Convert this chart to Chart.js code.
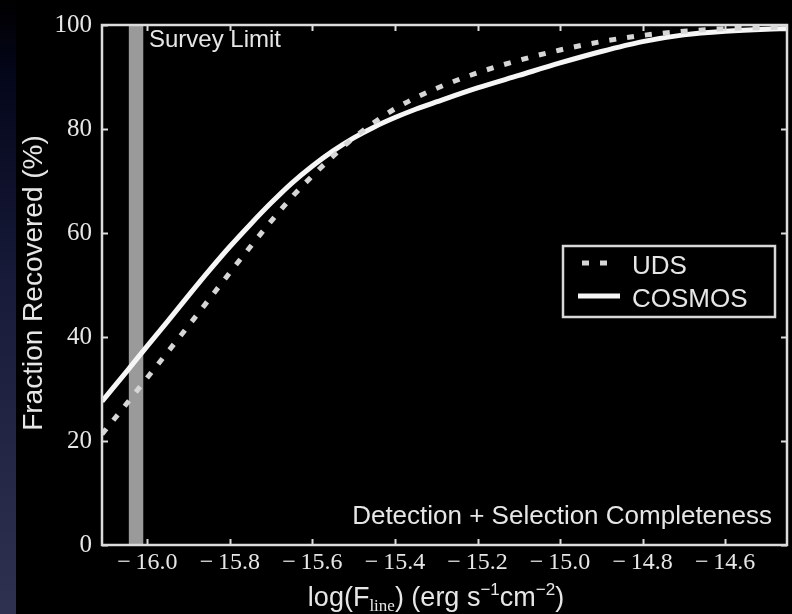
<!DOCTYPE html>
<html>
<head>
<meta charset="utf-8">
<script src="https://cdn.jsdelivr.net/npm/chart.js@4.4.1/dist/chart.umd.min.js"></script>
<style>
  html, body { margin: 0; padding: 0; background: #000; overflow: hidden; }
  canvas { display: block; }
</style>
</head>
<body>
<canvas id="c" width="792" height="614"></canvas>
<script>
// Line-flux grid (log erg s^-1 cm^-2) and recovered fractions (%)
const logFlux = [-16.11, -16.05, -16.0, -15.95, -15.9, -15.85, -15.8, -15.75, -15.7, -15.65,
                 -15.6, -15.55, -15.5, -15.45, -15.4, -15.35, -15.3, -15.2, -15.1, -15.0,
                 -14.9, -14.8, -14.7, -14.6, -14.5, -14.45];
const udsRecovered = [21.3, 27.2, 32.2, 37.2, 42.2, 47.3, 52.4, 57.4, 62.3, 66.9,
                      71.0, 74.8, 78.3, 81.3, 83.9, 86.0, 87.8, 90.8, 93.2, 95.2,
                      96.8, 98.0, 98.8, 99.3, 99.5, 99.6];
const cosmosRecovered = [27.6, 33.4, 38.3, 43.1, 48.0, 52.8, 57.4, 61.7, 65.8, 69.6,
                         72.9, 75.8, 78.3, 80.4, 82.2, 83.8, 85.2, 87.9, 90.3, 92.7,
                         94.9, 96.8, 98.1, 98.8, 99.2, 99.3];
const seriesLabels = ['UDS', 'COSMOS'];
const surveyLimit = [-16.045, -16.01];
const xTickValues = [-16.0, -15.8, -15.6, -15.4, -15.2, -15.0, -14.8, -14.6];
const yTickValues = [0, 20, 40, 60, 80, 100];
const surveyLabel = 'Survey Limit';
const panelTitle = 'Detection + Selection Completeness';
const yTitle = 'Fraction Recovered (%)';

const INK = '#e6e6e6';
const SANS = '"Liberation Sans", Arial, sans-serif';
const SERIF = '"Liberation Serif", "Times New Roman", serif';

const toPoints = (ys) => logFlux.map((x, i) => ({ x, y: ys[i] }));

// page background with the faint blue strip at the left edge
const backdrop = {
  id: 'backdrop',
  beforeDraw(chart) {
    const c = chart.ctx;
    c.save();
    c.fillStyle = '#000';
    c.fillRect(0, 0, chart.width, chart.height);
    const g = c.createLinearGradient(0, 0, 0, chart.height);
    g.addColorStop(0, '#000000');
    g.addColorStop(0.12, '#04061a');
    g.addColorStop(0.45, '#171a38');
    g.addColorStop(1, '#2e3150');
    c.fillStyle = g;
    c.fillRect(0, 0, 16, chart.height);
    c.restore();
  }
};

// grey band marking the survey flux limit
const surveyBand = {
  id: 'surveyBand',
  beforeDatasetsDraw(chart) {
    const { ctx: c, chartArea: a, scales: { x } } = chart;
    const x0 = x.getPixelForValue(surveyLimit[0]);
    const x1 = x.getPixelForValue(surveyLimit[1]);
    c.save();
    c.fillStyle = '#9a9a9a';
    c.fillRect(x0, a.top, x1 - x0, a.bottom - a.top);
    c.restore();
  }
};

// boxed axes with inward ticks on all four sides
const boxFrame = {
  id: 'boxFrame',
  afterDatasetsDraw(chart) {
    const { ctx: c, chartArea: a, scales: { x, y } } = chart;
    const L = 6;
    c.save();
    c.strokeStyle = '#dcdcdc';
    c.lineWidth = 2;
    c.beginPath();
    x.ticks.forEach(t => {
      const px = Math.round(x.getPixelForValue(t.value)) + 0.5;
      c.moveTo(px, a.bottom); c.lineTo(px, a.bottom - L);
      c.moveTo(px, a.top); c.lineTo(px, a.top + L);
    });
    y.ticks.forEach(t => {
      const py = Math.round(y.getPixelForValue(t.value)) + 0.5;
      c.moveTo(a.left, py); c.lineTo(a.left + L, py);
      c.moveTo(a.right, py); c.lineTo(a.right - L, py);
    });
    c.stroke();
    c.lineWidth = 2.5;
    c.strokeRect(a.left, a.top, a.right - a.left, a.bottom - a.top);
    c.restore();
  }
};

// annotations, axis titles and the boxed legend
const labels = {
  id: 'labels',
  afterDraw(chart) {
    const { ctx: c, chartArea: a } = chart;
    c.save();
    c.fillStyle = INK;
    c.textBaseline = 'alphabetic';

    c.font = '24px ' + SANS;
    c.textAlign = 'left';
    c.fillText(surveyLabel, 149, 47);

    c.font = '26px ' + SANS;
    c.textAlign = 'right';
    c.fillText(panelTitle, a.right - 15, 524);

    // y title
    c.save();
    c.translate(42, 283);
    c.rotate(-Math.PI / 2);
    c.textAlign = 'center';
    c.font = '28px ' + SANS;
    c.fillText(yTitle, 0, 0);
    c.restore();

    // x title with subscript / superscripts
    const parts = [
      { t: 'log(F', f: '27px ' + SANS, dy: 0 },
      { t: 'line', f: '17px ' + SERIF, dy: 5 },
      { t: ') (erg s', f: '27px ' + SANS, dy: 0 },
      { t: '\u22121', f: '17px ' + SANS, dy: -11 },
      { t: 'cm', f: '27px ' + SANS, dy: 0 },
      { t: '\u22122', f: '17px ' + SANS, dy: -11 },
      { t: ')', f: '27px ' + SANS, dy: 0 }
    ];
    c.textAlign = 'left';
    let total = 0;
    parts.forEach(p => { c.font = p.f; p.w = c.measureText(p.t).width; total += p.w; });
    let cx = 436 - total / 2;
    parts.forEach(p => { c.font = p.f; c.fillText(p.t, cx, 606 + p.dy); cx += p.w; });

    // legend
    const bx = 563, by = 246, bw = 212, bh = 71;
    c.fillStyle = '#000';
    c.fillRect(bx, by, bw, bh);
    c.strokeStyle = '#d8d8d8';
    c.lineWidth = 2.5;
    c.strokeRect(bx, by, bw, bh);
    const rows = [263, 296];
    chart.data.datasets.forEach((ds, i) => {
      const ry = rows[i];
      c.save();
      c.strokeStyle = ds.borderColor;
      c.lineWidth = ds.borderWidth;
      c.setLineDash(ds.borderDash || []);
      c.beginPath();
      c.moveTo(ds.borderDash ? 582 : 578, ry);
      c.lineTo(ds.borderDash ? 612 : 620, ry);
      c.stroke();
      c.restore();
      c.fillStyle = INK;
      c.font = '26px ' + SANS;
      c.fillText(ds.label, 632, ry + 11);
    });
    c.restore();
  }
};

new Chart(document.getElementById('c'), {
  type: 'line',
  data: {
    datasets: [
      {
        label: seriesLabels[0],
        data: toPoints(udsRecovered),
        borderColor: '#d6d6d6',
        borderWidth: 5,
        borderDash: [7, 11],
        borderCapStyle: 'butt',
        pointRadius: 0,
        cubicInterpolationMode: 'monotone',
        fill: false
      },
      {
        label: seriesLabels[1],
        data: toPoints(cosmosRecovered),
        borderColor: '#f6f6f6',
        borderWidth: 5,
        pointRadius: 0,
        cubicInterpolationMode: 'monotone',
        fill: false
      }
    ]
  },
  options: {
    responsive: false,
    animation: false,
    devicePixelRatio: 1,
    layout: { padding: { left: 0, right: 5, top: 16, bottom: 0 } },
    scales: {
      x: {
        type: 'linear',
        min: -16.11,
        max: -14.45,
        afterBuildTicks: (s) => { s.ticks = xTickValues.map(v => ({ value: v })); },
        afterFit: (s) => { s.height = 69; },
        grid: { display: false, drawTicks: false },
        border: { display: false },
        ticks: {
          color: INK,
          padding: 3,
          maxRotation: 0,
          autoSkip: false,
          font: { family: SERIF, size: 24 },
          callback: (v) => '\u2212\u2009' + Math.abs(v).toFixed(1)
        }
      },
      y: {
        min: 0,
        max: 100,
        afterBuildTicks: (s) => { s.ticks = yTickValues.map(v => ({ value: v })); },
        afterFit: (s) => { s.width = 102; },
        grid: { display: false, drawTicks: false },
        border: { display: false },
        ticks: {
          color: INK,
          padding: 10,
          font: { family: SERIF, size: 25 },
          callback: (v) => String(v)
        }
      }
    },
    plugins: {
      legend: { display: false },
      tooltip: { enabled: false }
    }
  },
  plugins: [backdrop, surveyBand, boxFrame, labels]
});
</script>
</body>
</html>
